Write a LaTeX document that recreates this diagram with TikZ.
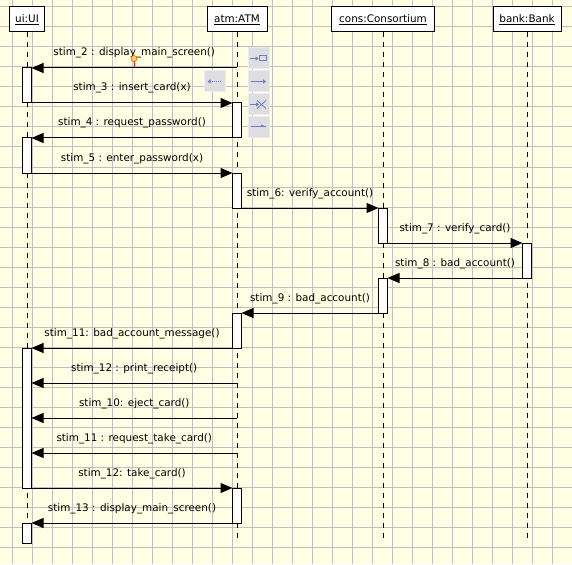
\documentclass[tikz,border=0pt]{standalone}
\usepackage{fontspec}
\setmainfont{DejaVu Sans}
\usetikzlibrary{arrows.meta}

\definecolor{paper}{RGB}{255,255,228}
\definecolor{rule}{RGB}{192,192,192}
\definecolor{btnfill}{RGB}{222,222,226}
\definecolor{btnline}{RGB}{236,236,240}
\definecolor{btnicon}{RGB}{110,125,190}
\definecolor{handle}{RGB}{250,210,90}

\tikzset{
	head/.style={draw, line width=1pt, fill=white, minimum height=25pt, inner sep=0pt, font=\fontsize{10.4}{12}\selectfont},
	life/.style={line width=1pt, dash pattern=on 5pt off 5pt},
	act/.style={draw, line width=1pt, fill=white, minimum width=9pt, inner sep=0pt, outer sep=0pt},
	msg/.style={line width=1pt, -{Triangle[length=12pt, width=10pt]}},
	lbl/.style={anchor=base, yshift=12pt, inner sep=0pt, font=\fontsize{10.4}{12}\selectfont},
	btn/.style={draw=btnline, fill=btnfill, line width=1pt, minimum width=21pt, minimum height=21pt, inner sep=0pt},
	icon/.style={btnicon, line width=1pt, -{Triangle[length=3pt, width=4pt]}}
}

\begin{document}
\begin{tikzpicture}[x=1pt, y=-1pt]
	\useasboundingbox (0, 0) rectangle (572, 564);
	\fill[paper] (0, 0) rectangle (572, 564);
	\foreach \gx in {12, 32, ..., 572} \draw[rule, line width=1pt] (\gx, 0)--(\gx, 564);
	\foreach \gy in {7, 27, ..., 547} \draw[rule, line width=1pt] (0, \gy)--(572, \gy);

	% objects and lifelines
	\node[head, minimum width=35pt] (ui) at (27, 19.5) {\underline{ui:UI}};
	\node[head, minimum width=60pt] (atm) at (237, 19.5) {\underline{atm:ATM}};
	\node[head, minimum width=103pt] (cons) at (383, 19.5) {\underline{cons:Consortium}};
	\node[head, minimum width=68pt] (bank) at (527, 19.5) {\underline{bank:Bank}};
	\coordinate (uiend) at (27, 543);
	\coordinate (atmend) at (237, 542);
	\coordinate (consend) at (383, 542);
	\coordinate (bankend) at (527, 542);
	\draw[life] (ui.south)--(uiend);
	\draw[life] (atm.south)--(atmend);
	\draw[life] (cons.south)--(consend);
	\draw[life] (bank.south)--(bankend);

	% editor buttons
	\node[btn] (back) at (214.5, 81) {};
	\node[btn] (btna) at (258.5, 58.5) {};
	\node[btn] (btnb) at (258.5, 81) {};
	\node[btn] (btnc) at (258.5, 104) {};
	\node[btn] (btnd) at (258.5, 127) {};
	\draw[icon] (250, 58.5)--(258.5, 58.5);
	\draw[btnicon, line width=1pt] (259, 56) rectangle (266, 61);
	\draw[icon] (251, 81.5)--(266, 81.5);
	\draw[icon] (250, 104.5)--(259, 104.5);
	\draw[btnicon, line width=0.8pt] (257, 100.5)--(266, 108.5) (257, 108.5)--(266, 100.5);
	\draw[btnicon, line width=1pt] (251, 127)--(266, 127);
	\fill[btnicon] (266, 127)--(261, 127)--(261, 124.5)--cycle;
	\draw[btnicon, line width=1pt, dash pattern=on 1pt off 1pt, -{Triangle[length=3pt, width=4pt, open]}] (221, 81.5)--(207.5, 81.5);

	% activations
	\node[act, minimum height=35pt] (u1) at (27, 85.5) {};
	\node[act, minimum height=35pt] (a1) at (237, 120.5) {};
	\node[act, minimum height=35pt] (u2) at (27, 155.5) {};
	\node[act, minimum height=35pt] (a2) at (237, 190.5) {};
	\node[act, minimum height=35pt] (c1) at (383, 225.5) {};
	\node[act, minimum height=35pt] (b1) at (527, 260.5) {};
	\node[act, minimum height=35pt] (c2) at (383, 295.5) {};
	\node[act, minimum height=35pt] (a3) at (237, 330.5) {};
	\node[act, minimum height=140pt] (u3) at (27, 418) {};
	\node[act, minimum height=35pt] (a4) at (237, 505.5) {};
	\node[act, minimum height=20pt] (u4) at (27, 533) {};

	% messages
	\coordinate (p2) at (237, 68);
	\coordinate (p12) at (237, 383);
	\coordinate (p10) at (237, 418);
	\coordinate (p11) at (237, 453);
	\draw[msg] (p2)--(u1.north east) node[lbl, midway] {stim\_2 : display\_main\_screen()};
	\draw[msg] (u1.south east)--(a1.north west) node[lbl, midway] {stim\_3 : insert\_card(x)};
	\draw[msg] (a1.south west)--(u2.north east) node[lbl, midway] {stim\_4 : request\_password()};
	\draw[msg] (u2.south east)--(a2.north west) node[lbl, midway] {stim\_5 : enter\_password(x)};
	\draw[msg] (a2.south east)--(c1.north west) node[lbl, midway] {stim\_6: verify\_account()};
	\draw[msg] (c1.south east)--(b1.north west) node[lbl, midway] {stim\_7 : verify\_card()};
	\draw[msg] (b1.south west)--(c2.north east) node[lbl, midway] {stim\_8 : bad\_account()};
	\draw[msg] (c2.south west)--(a3.north east) node[lbl, midway] {stim\_9 : bad\_account()};
	\draw[msg] (a3.south west)--(u3.north east) node[lbl, midway] {stim\_11: bad\_account\_message()};
	\draw[msg] (p12)--(u3.east |- p12) node[lbl, midway] {stim\_12 : print\_receipt()};
	\draw[msg] (p10)--(u3.east |- p10) node[lbl, midway] {stim\_10: eject\_card()};
	\draw[msg] (p11)--(u3.east |- p11) node[lbl, midway] {stim\_11 : request\_take\_card()};
	\draw[msg] (u3.south east)--(a4.north west) node[lbl, midway] {stim\_12: take\_card()};
	\draw[msg] (a4.south west)--(u4.north east) node[lbl, midway] {stim\_13 : display\_main\_screen()};

	% selection handle
	\draw[red, line width=1pt] (134, 61)--(134, 67);
	\draw[fill=handle, draw=orange!80!black, line width=0.6pt] (134, 58.5) circle (3pt);
\end{tikzpicture}
\end{document}
